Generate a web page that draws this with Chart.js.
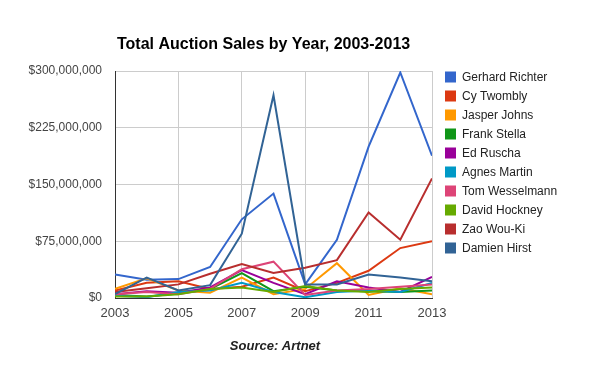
<!DOCTYPE html>
<html><head><meta charset="utf-8">
<script src="https://cdn.jsdelivr.net/npm/chart.js@4"></script>
<style>html,body{margin:0;padding:0;background:#fff}#wrap{width:600px;height:371px;position:relative}</style>
</head><body><div id="wrap"><canvas id="c" width="600" height="371"></canvas></div>
<script>
const years = [2003,2004,2005,2006,2007,2008,2009,2010,2011,2012,2013];
const xTicks = [2003,2005,2007,2009,2011,2013];
const yTicks = [0,75000000,150000000,225000000,300000000];
const artists = ["Gerhard Richter","Cy Twombly","Jasper Johns","Frank Stella","Ed Ruscha","Agnes Martin","Tom Wesselmann","David Hockney","Zao Wou-Ki","Damien Hirst"];
const colors = ["#3366cc","#dc3912","#ff9900","#109618","#990099","#0099c6","#dd4477","#66aa00","#b82e2e","#316395"];
// values in millions of dollars
const gerhardRichter = [31,24,25,41,104,138,18,77,200,298,188];
const cyTwombly      = [10,20,22,12,15,27,9,20,36,66,75];
const jasperJohns    = [12,26,10,7,27,5,12,46,4,13,5];
const frankStella    = [4,2,6,12,33,9,15,10,9,8,10];
const edRuscha       = [5,9,7,14,37,20,5,22,14,8,28];
const agnesMartin    = [3,1,8,10,20,8,1,8,10,8,20];
const tomWesselmann  = [5,8,5,12,38,48,4,10,12,15,18];
const davidHockney   = [2,2,5,12,14,8,16,10,8,12,14];
const zaoWouKi       = [8,13,18,32,45,33,40,50,113,77,158];
const damienHirst    = [5,27,10,17,85,268,18,18,31,27,22];
const seriesValues = [gerhardRichter,cyTwombly,jasperJohns,frankStella,edRuscha,agnesMartin,tomWesselmann,davidHockney,zaoWouKi,damienHirst];

const datasets = artists.map((name,i)=>({
  label:name,
  data: years.map((y,j)=>({x:y,y:seriesValues[i][j]*1e6})),
  borderColor:colors[i], backgroundColor:colors[i],
  borderWidth:2, pointRadius:0, tension:0, fill:false,
  order: artists.length - i
}));

const extras = {
  id:'extras',
  afterDraw(chart){
    const ctx = chart.ctx;
    ctx.save();
    ctx.fillStyle = '#000';
    ctx.font = 'bold 16px "Liberation Sans", Arial, sans-serif';
    ctx.textAlign = 'left'; ctx.textBaseline = 'middle';
    ctx.fillText('Total Auction Sales by Year, 2003-2013', 117, 45);
    ctx.fillStyle = '#222';
    ctx.font = 'italic bold 13px "Liberation Sans", Arial, sans-serif';
    ctx.textAlign = 'center';
    ctx.fillText('Source: Artnet', 275, 346);
    ctx.font = '12px "Liberation Sans", Arial, sans-serif';
    ctx.textAlign = 'left';
    artists.forEach((name,i)=>{
      const y = 77 + i*19.0;
      ctx.fillStyle = colors[i];
      ctx.fillRect(445, y-5.5, 11, 11);
      ctx.fillStyle = '#222';
      ctx.fillText(name, 462, y+0.5);
    });
    ctx.restore();
  }
};

new Chart(document.getElementById('c'), {
  type:'line',
  data:{datasets},
  options:{
    responsive:false, animation:false,
    layout:{padding:{left:0,right:168,top:71,bottom:0}},
    plugins:{legend:{display:false},title:{display:false},tooltip:{enabled:false}},
    scales:{
      x:{type:'linear',min:2003,max:2013,
        afterFit(s){s.height=73;},
        afterBuildTicks(s){s.ticks = xTicks.map(v=>({value:v}));},
        ticks:{color:'#444',font:{size:13,family:'"Liberation Sans", Arial, sans-serif'},padding:8,maxRotation:0,
          callback:v=>String(v)},
        grid:{color:'#cccccc',drawTicks:false,lineWidth:1},
        border:{color:'#333',width:1}
      },
      y:{min:0,max:300000000,
        afterFit(s){s.width=115;},
        afterBuildTicks(s){s.ticks = yTicks.map(v=>({value:v}));},
        ticks:{color:'#444',font:{size:12,family:'"Liberation Sans", Arial, sans-serif'},padding:13,
          callback:v=>'$'+Number(v).toLocaleString('en-US')},
        grid:{color:'#cccccc',drawTicks:false,lineWidth:1},
        border:{color:'#333',width:1}
      }
    }
  },
  plugins:[extras]
});
</script></body></html>
